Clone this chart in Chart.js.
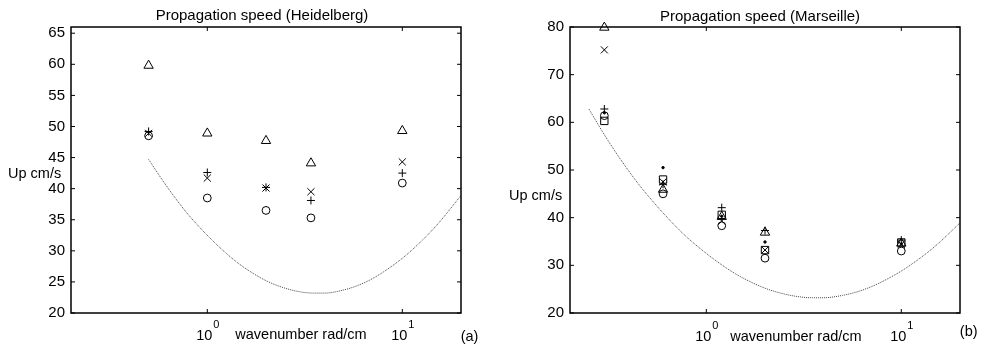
<!DOCTYPE html>
<html>
<head>
<meta charset="utf-8">
<script src="https://cdn.jsdelivr.net/npm/chart.js@4.4.1/dist/chart.umd.min.js"></script>
<style>
  html, body { margin: 0; padding: 0; background: #fff; }
  #wrap { position: relative; width: 984px; height: 347px; }
  #wrap div { position: absolute; top: 0; height: 347px; }
</style>
</head>
<body>
<div id="wrap">
  <div style="left:0;width:490px"><canvas id="heidelberg"></canvas></div>
  <div style="left:490px;width:494px"><canvas id="marseille"></canvas></div>
</div>
<script>
// wavenumber (rad/cm) of the measurements
const kHeid = [0.5, 1, 2, 3.4, 10];
const kMars = [0.3, 0.6, 1.2, 2, 10];

// Heidelberg, Up cm/s
const heidTriangle = [59.8, 48.9, 47.7, 44.1, 49.3];
const heidCross = [48.9, 41.7, 40.1, 39.5, 44.3];
const heidPlus = [49.2, 42.6, 40.2, 38.1, 42.5];
const heidCircle = [48.5, 38.5, 36.5, 35.3, 40.9];

// Marseille, Up cm/s
const marsTriangle = [79.9, 45.9, 40.2, 36.9, 34.6];
const marsCross = [75.2, 47.5, 39.3, 33.2, 34.4];
const marsPlus = [62.8, 47.0, 42.1, 37.3, 35.3];
const marsCircle = [61.4, 45.0, 38.3, 31.5, 33.0];
const marsSquare = [60.3, 48.0, 40.6, 33.2, 34.8];
const marsDot = [62.0, 50.5, 40.3, 34.9, 34.5];

// dotted reference curve
const curveK = [0.25, 0.3, 0.35, 0.4, 0.45, 0.5, 0.6, 0.7, 0.8, 1, 1.25, 1.5, 2, 2.5, 3, 3.5, 4, 5, 6, 7, 8, 10, 12, 15, 20];
const curveUp = [62.8, 57.4, 53.2, 49.8, 47.0, 44.7, 41.0, 38.1, 35.8, 32.5, 29.6, 27.6, 25.2, 24.0, 23.4, 23.2, 23.2, 23.7, 24.5, 25.5, 26.6, 28.8, 31.0, 34.1, 38.9];

// tick labels
const yTicksHeid = [20, 25, 30, 35, 40, 45, 50, 55, 60, 65];
const yTicksMars = [20, 30, 40, 50, 60, 70, 80];
const decadeTicks = [1, 10];

Chart.defaults.font.family = "'Liberation Sans', Arial, sans-serif";
Chart.defaults.color = '#000';

function pts(xs, ys) {
  return xs.map((x, i) => ({ x: x, y: ys[i] }));
}

function markers(xs, ys, style, radius, fill) {
  return {
    data: pts(xs, ys),
    pointStyle: style,
    pointRadius: radius,
    pointBorderColor: '#000',
    pointBackgroundColor: fill ? '#000' : 'rgba(0,0,0,0)',
    pointBorderWidth: 1,
    showLine: false,
    clip: 12
  };
}

function curve(kMin) {
  const xs = [], ys = [];
  curveK.forEach((k, i) => {
    if (k >= kMin) { xs.push(k); ys.push(curveUp[i]); }
  });
  return {
    data: pts(xs, ys),
    showLine: true,
    borderColor: '#444',
    borderWidth: 1,
    borderDash: [1, 1],
    pointRadius: 0,
    cubicInterpolationMode: 'monotone'
  };
}

// box, inward ticks and the MATLAB style labels
const frame = {
  id: 'frame',
  afterDraw(chart, args, opts) {
    const { ctx, chartArea: a, scales: { x, y } } = chart;
    ctx.save();
    ctx.strokeStyle = '#000';
    ctx.lineWidth = 1.5;
    ctx.strokeRect(a.left, a.top, a.right - a.left, a.bottom - a.top);

    ctx.lineWidth = 1;
    ctx.beginPath();
    y.ticks.forEach(t => {
      const py = y.getPixelForValue(t.value);
      ctx.moveTo(a.left, py); ctx.lineTo(a.left + 4, py);
      ctx.moveTo(a.right, py); ctx.lineTo(a.right - 4, py);
    });
    decadeTicks.forEach(v => {
      const px = x.getPixelForValue(v);
      ctx.moveTo(px, a.bottom); ctx.lineTo(px, a.bottom - 4);
      ctx.moveTo(px, a.top); ctx.lineTo(px, a.top + 4);
    });
    ctx.stroke();

    ctx.fillStyle = '#000';
    ctx.textBaseline = 'middle';
    ctx.textAlign = 'center';
    ctx.font = "15px 'Liberation Sans', Arial, sans-serif";
    ctx.fillText(opts.title, opts.titleX, opts.titleY);

    decadeTicks.forEach((v, i) => {
      const px = x.getPixelForValue(v);
      ctx.font = "14.5px 'Liberation Sans', Arial, sans-serif";
      ctx.fillText('10', px - 3, opts.tickY);
      ctx.font = "11px 'Liberation Sans', Arial, sans-serif";
      ctx.fillText(String(i), px + 9, opts.tickY - 11);
    });

    ctx.font = "14.5px 'Liberation Sans', Arial, sans-serif";
    ctx.fillText('wavenumber rad/cm', opts.xlabelX, opts.xlabelY);
    ctx.fillText(opts.tag, opts.tagX, opts.tagY);
    ctx.textAlign = 'left';
    ctx.fillText('Up cm/s', opts.ylabelX, opts.ylabelY);
    ctx.restore();
  }
};

function config(datasets, yMax, yTicks, axisW, padRight, labels) {
  return {
    type: 'scatter',
    data: { datasets: datasets },
    options: {
      responsive: true,
      maintainAspectRatio: false,
      animation: false,
      layout: { padding: { top: 27, right: padRight, left: 0, bottom: 0 } },
      plugins: {
        legend: { display: false },
        tooltip: { enabled: false },
        frame: labels
      },
      scales: {
        x: {
          type: 'logarithmic',
          min: 0.2,
          max: 20,
          grid: { display: false, drawTicks: false },
          border: { display: false },
          ticks: { display: false },
          afterFit(scale) { scale.height = 34; }
        },
        y: {
          min: 20,
          max: yMax,
          grid: { display: false, drawTicks: false },
          border: { display: false },
          ticks: {
            padding: 6,
            color: '#000',
            font: { size: 15 },
            callback: v => String(v)
          },
          afterBuildTicks(scale) { scale.ticks = yTicks.map(v => ({ value: v })); },
          afterFit(scale) { scale.width = axisW; }
        }
      }
    },
    plugins: [frame]
  };
}

new Chart(document.getElementById('heidelberg'), config([
  curve(0.5),
  markers(kHeid, heidTriangle, 'triangle', 5.4, false),
  markers(kHeid, heidCross, 'crossRot', 5, false),
  markers(kHeid, heidPlus, 'cross', 4, false),
  markers(kHeid, heidCircle, 'circle', 3.9, false)
], 66, yTicksHeid, 71, 29, {
  title: 'Propagation speed (Heidelberg)', titleX: 262, titleY: 15.5,
  tag: '(a)', tagX: 469.5, tagY: 337,
  xlabelX: 301, xlabelY: 335, tickY: 336,
  ylabelX: 8, ylabelY: 174
}));

new Chart(document.getElementById('marseille'), config([
  curve(0.25),
  markers(kMars, marsTriangle, 'triangle', 5.4, false),
  markers(kMars, marsCross, 'crossRot', 5, false),
  markers(kMars, marsPlus, 'cross', 4, false),
  markers(kMars, marsCircle, 'circle', 3.9, false),
  markers(kMars, marsSquare, 'rect', 5.2, false),
  markers(kMars, marsDot, 'circle', 1.2, true)
], 80, yTicksMars, 80, 24, {
  title: 'Propagation speed (Marseille)', titleX: 270, titleY: 17,
  tag: '(b)', tagX: 478.7, tagY: 332,
  xlabelX: 306, xlabelY: 337, tickY: 336.5,
  ylabelX: 19, ylabelY: 196
}));
</script>
</body>
</html>
